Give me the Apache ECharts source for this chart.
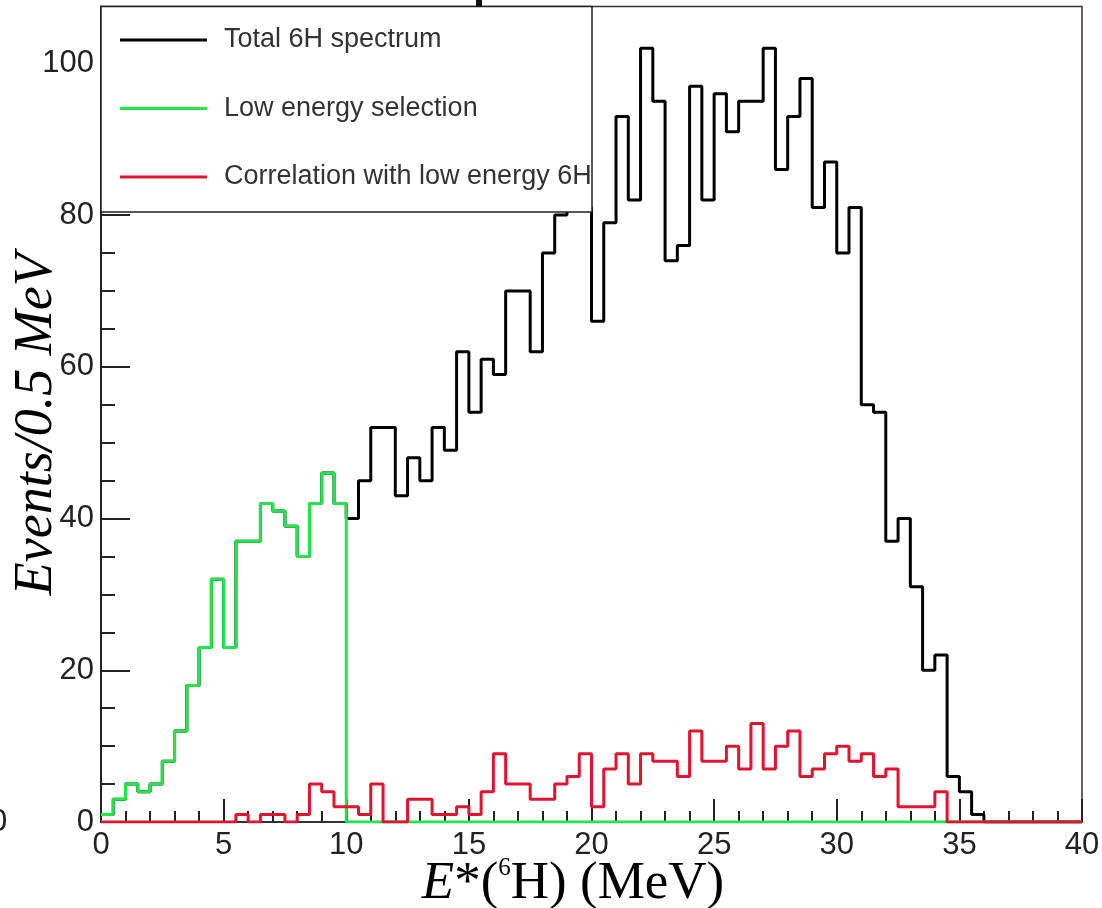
<!DOCTYPE html>
<html><head><meta charset="utf-8">
<script src="https://cdn.jsdelivr.net/npm/echarts@6/dist/echarts.min.js"></script>
<style>html,body{margin:0;padding:0;background:#fff}#c{width:1102px;height:908px}</style>
</head><body><div id="c"></div>
<script>
// ---- data ----
const binWidth = 0.5;            // MeV per bin
const xMin = 0, xMax = 40;
const yMin = 0, yMax = 107.5;
const seriesNames = ['Total 6H spectrum', 'Low energy selection', 'Correlation with low energy 6H'];
const seriesColors = ['#000000', '#22e64c', '#e3122f'];
const totalCounts = [
  1, 3, 5, 4, 5, 8, 12, 18, 23, 32,
  23, 37, 37, 42, 41, 39, 35, 42, 46, 42,
  40, 45, 52, 52, 43, 48, 45, 52, 49, 62,
  54, 61, 59, 70, 70, 62, 75, 80, 81, 81,
  66, 79, 93, 82, 102, 95, 74, 76, 97, 82,
  96, 91, 95, 95, 102, 86, 93, 98, 81, 87,
  75, 81, 55, 54, 37, 40, 31, 20, 22, 6,
  4, 1, 0, 0, 0, 0, 0, 0, 0, 0
];
const lowEnergyCounts = [
  1, 3, 5, 4, 5, 8, 12, 18, 23, 32,
  23, 37, 37, 42, 41, 39, 35, 42, 46, 42,
  0, 0, 0, 0, 0, 0, 0, 0, 0, 0,
  0, 0, 0, 0, 0, 0, 0, 0, 0, 0,
  0, 0, 0, 0, 0, 0, 0, 0, 0, 0,
  0, 0, 0, 0, 0, 0, 0, 0, 0, 0,
  0, 0, 0, 0, 0, 0, 0, 0, 0, 0,
  0, 0, 0, 0, 0, 0, 0, 0, 0, 0
];
const correlationCounts = [
  0, 0, 0, 0, 0, 0, 0, 0, 0, 0,
  0, 1, 0, 1, 1, 0, 1, 5, 4, 2,
  2, 1, 5, 0, 0, 3, 3, 1, 1, 2,
  1, 4, 9, 5, 5, 3, 3, 5, 6, 9,
  2, 7, 9, 5, 9, 8, 8, 6, 12, 8,
  8, 10, 7, 13, 7, 10, 12, 6, 7, 9,
  10, 8, 9, 6, 7, 2, 2, 2, 4, 0,
  0, 0, 0, 0, 0, 0, 0, 0, 0, 0
];

// histogram outline: one point at each bin's low edge, plus the closing edge
function toSteps(counts) {
  const pts = counts.map((v, i) => [xMin + i * binWidth, v]);
  pts.push([xMin + counts.length * binWidth, counts[counts.length - 1]]);
  return pts;
}

const chart = echarts.init(document.getElementById('c'), null, {renderer: 'canvas'});
const sans = 'Liberation Sans';
const serif = 'Liberation Serif';
const axisColor = '#222';

const countSeries = [totalCounts, lowEnergyCounts, correlationCounts];

chart.setOption({
  animation: false,
  backgroundColor: '#fff',
  grid: {left: 101, right: 20, top: 6.5, bottom: 86, outerBoundsMode: 'none', containLabel: false,
         show: true, borderColor: '#333', borderWidth: 1.5, backgroundColor: 'transparent'},
  legend: {
    orient: 'vertical', left: 120, top: 23, padding: 0, itemGap: 34.5,
    itemWidth: 87, itemHeight: 3, icon: 'rect', selectedMode: false, z: 20,
    data: seriesNames,
    textStyle: {fontFamily: sans, fontSize: 27, color: '#333', lineHeight: 34, padding: [0, 0, 0, 12]}
  },
  graphic: [
    {type: 'rect', z: 10, shape: {x: 101, y: 6.5, width: 491, height: 205.5},
     style: {fill: '#fff', stroke: '#222', lineWidth: 1.5}},
    {type: 'text', z: 10, x: -10, y: 822,
     style: {text: '0', font: '31px "Liberation Sans"', fill: '#222', verticalAlign: 'middle'}},
    {type: 'rect', z: 10, shape: {x: 476, y: 0, width: 6, height: 7}, style: {fill: '#111'}}
  ],
  xAxis: [{
    type: 'value', min: xMin, max: xMax, interval: 5,
    axisLine: {show: true, lineStyle: {color: axisColor, width: 1.5}},
    axisTick: {show: true, inside: true, length: 23, lineStyle: {color: axisColor, width: 2}},
    minorTick: {show: true, splitNumber: 5, length: 11, lineStyle: {color: axisColor, width: 2}},
    axisLabel: {fontFamily: sans, fontSize: 31, color: axisColor, margin: 8},
    splitLine: {show: false},
    name: '{it|E}{n|*(}{sup|6}{n|H) (MeV)}',
    nameLocation: 'middle', nameGap: 34, nameMoveOverlap: false,
    nameTextStyle: {
      padding: [0, 37, 0, 0],
      rich: {
        it: {fontFamily: serif, fontStyle: 'italic', fontSize: 53, lineHeight: 56, color: '#000'},
        n: {fontFamily: serif, fontSize: 53, lineHeight: 56, color: '#000'},
        sup: {fontFamily: serif, fontSize: 25, lineHeight: 34, verticalAlign: 'top', color: '#000'}
      }
    }
  }],
  yAxis: [{
    type: 'value', min: yMin, max: yMax, interval: 20,
    axisLine: {show: true, lineStyle: {color: axisColor, width: 2}},
    axisTick: {show: true, inside: true, length: 29, lineStyle: {color: axisColor, width: 2}},
    axisLabel: {fontFamily: sans, fontSize: 31, color: axisColor, margin: 7, showMaxLabel: false},
    splitLine: {show: false},
    name: 'Events/0.5 MeV', nameLocation: 'middle', nameGap: 37, nameMoveOverlap: false,
    nameTextStyle: {fontFamily: serif, fontStyle: 'italic', fontSize: 54, color: '#000', padding: [0, 20, 0, 0]}
  }, {
    type: 'value', min: yMin, max: yMax, interval: 5, position: 'left',
    axisLine: {show: false},
    axisTick: {show: true, inside: true, length: 14, lineStyle: {color: axisColor, width: 2}},
    axisLabel: {show: false},
    splitLine: {show: false}
  }],
  series: seriesNames.map((name, k) => ({
    name: name, type: 'line', step: 'end',
    xAxisIndex: 0, yAxisIndex: 0,
    data: toSteps(countSeries[k]),
    showSymbol: false, symbol: 'none', silent: true,
    color: seriesColors[k],
    lineStyle: {width: 3, color: seriesColors[k]},
    z: 2 + k
  }))
});
</script>
</body></html>
